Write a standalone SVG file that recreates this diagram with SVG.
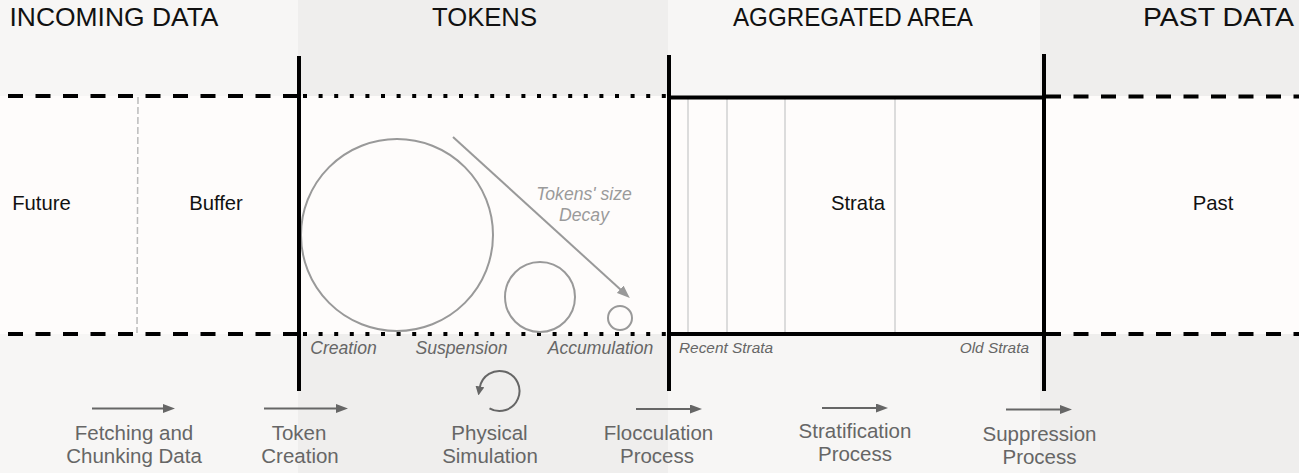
<svg xmlns="http://www.w3.org/2000/svg" width="1299" height="473" viewBox="0 0 1299 473">
<style>
text{font-family:"Liberation Sans",Arial,sans-serif}
.hdr{font-size:26px;fill:#111}
.lbl{font-size:20.3px;fill:#111}
.it{font-size:17.6px;font-style:italic;fill:#666}
.its{font-size:15.4px;font-style:italic;fill:#666}
.dec{font-size:17.6px;font-style:italic;fill:#9a9a9a}
.bot{font-size:20.5px;fill:#666}
.thick{stroke:#000;stroke-width:4;fill:none}
.dash{stroke:#000;stroke-width:4;stroke-dasharray:15 12.5;fill:none}
.dot{stroke:#000;stroke-width:4;stroke-dasharray:4 11.6;fill:none}
.strat{stroke:#d9d9d9;stroke-width:1.8}
.tok{fill:none;stroke:#999;stroke-width:2}
.arr{stroke:#666;stroke-width:2;fill:none}
</style>
<defs>
<marker id="ah" viewBox="0 0 12 9" refX="2" refY="4.5" markerWidth="12" markerHeight="9" markerUnits="userSpaceOnUse" orient="auto"><path d="M0,0 L12,4.5 L0,9 z" fill="#666"/></marker>
<marker id="ahc" viewBox="0 0 9 9" refX="1" refY="4.5" markerWidth="9" markerHeight="9" markerUnits="userSpaceOnUse" orient="auto"><path d="M0,0 L9,4.5 L0,9 z" fill="#666"/></marker>
<marker id="ahg" viewBox="0 0 13 10" refX="3" refY="5" markerWidth="13" markerHeight="10" markerUnits="userSpaceOnUse" orient="auto"><path d="M0,0 L13,5 L0,10 z" fill="#999"/></marker>
</defs>
<g id="background">
<rect x="0" y="0" width="298" height="473" fill="#f7f6f5"/>
<rect x="298" y="0" width="370" height="473" fill="#efeeed"/>
<rect x="668" y="0" width="372" height="473" fill="#f7f6f5"/>
<rect x="1040" y="0" width="259" height="473" fill="#efeeed"/>
<rect x="0" y="96" width="1299" height="238" fill="#fefcfb"/>
</g>
<g id="incoming">
<text class="hdr" x="9.5" y="26" textLength="209" lengthAdjust="spacingAndGlyphs">INCOMING DATA</text>
<line class="dash" x1="8" y1="96" x2="299" y2="96"/>
<line class="dash" x1="8" y1="334" x2="299" y2="334"/>
<line x1="138" y1="97" x2="137" y2="333" stroke="#bbb" stroke-width="1.5" stroke-dasharray="7 3"/>
<text class="lbl" x="41.5" y="210" text-anchor="middle">Future</text>
<text class="lbl" x="216" y="210" text-anchor="middle">Buffer</text>
</g>
<g id="tokens">
<text class="hdr" x="432" y="26" textLength="105" lengthAdjust="spacingAndGlyphs">TOKENS</text>
<line class="dot" x1="303" y1="96" x2="669" y2="96"/>
<line class="dot" x1="303" y1="334" x2="669" y2="334"/>
<circle class="tok" cx="397" cy="235" r="96"/>
<circle class="tok" cx="540" cy="297" r="35"/>
<circle class="tok" cx="620" cy="318" r="12"/>
<text class="dec" x="584" y="200" text-anchor="middle">Tokens' size</text>
<text class="dec" x="584" y="221" text-anchor="middle">Decay</text>
<text class="it" x="343.5" y="354" text-anchor="middle">Creation</text>
<text class="it" x="461.5" y="354" text-anchor="middle">Suspension</text>
<text class="it" x="600.5" y="354" text-anchor="middle">Accumulation</text>
</g>
<g id="aggregated">
<text class="hdr" x="733" y="26" textLength="240" lengthAdjust="spacingAndGlyphs">AGGREGATED AREA</text>
<line class="strat" x1="688" y1="98" x2="688" y2="333"/>
<line class="strat" x1="727" y1="98" x2="727" y2="333"/>
<line class="strat" x1="785" y1="98" x2="785" y2="333"/>
<line class="strat" x1="895" y1="98" x2="895" y2="333"/>
<line class="thick" x1="669" y1="97.5" x2="1046" y2="97.5"/>
<line class="thick" x1="669" y1="334" x2="1046" y2="334"/>
<text class="lbl" x="858" y="210" text-anchor="middle">Strata</text>
<text class="its" x="679" y="353">Recent Strata</text>
<text class="its" x="1029" y="353" text-anchor="end">Old Strata</text>
</g>
<g id="past">
<text class="hdr" x="1143" y="26" textLength="151" lengthAdjust="spacingAndGlyphs">PAST DATA</text>
<line class="dash" x1="1046" y1="96.5" x2="1299" y2="96.5"/>
<line class="dash" x1="1046" y1="334" x2="1299" y2="334"/>
<text class="lbl" x="1213" y="210" text-anchor="middle">Past</text>
</g>
<g id="boundaries">
<line class="thick" x1="299" y1="56" x2="299" y2="391"/>
<line class="thick" x1="669" y1="55" x2="669" y2="391"/>
<line class="thick" x1="1044" y1="54" x2="1044" y2="391"/>
</g>
<g id="connectors">
<line stroke="#999" stroke-width="2" x1="453" y1="137" x2="622.4" y2="291.3" marker-end="url(#ahg)"/>
<line class="arr" x1="92" y1="408.5" x2="165" y2="408.5" marker-end="url(#ah)"/>
<line class="arr" x1="264" y1="408.5" x2="338" y2="408.5" marker-end="url(#ah)"/>
<path class="arr" d="M489.5 408.3 A20 20 0 1 0 479.8 387.5" marker-end="url(#ahc)"/>
<line class="arr" x1="636" y1="409" x2="692" y2="409" marker-end="url(#ah)"/>
<line class="arr" x1="822" y1="408" x2="878" y2="408" marker-end="url(#ah)"/>
<line class="arr" x1="1006" y1="409.5" x2="1062" y2="409.5" marker-end="url(#ah)"/>
</g>
<g id="process-labels">
<text class="bot" x="134" y="440" text-anchor="middle">Fetching and</text>
<text class="bot" x="134" y="463" text-anchor="middle">Chunking Data</text>
<text class="bot" x="299" y="440" text-anchor="middle">Token</text>
<text class="bot" x="300" y="463" text-anchor="middle">Creation</text>
<text class="bot" x="489.5" y="440" text-anchor="middle">Physical</text>
<text class="bot" x="490" y="463" text-anchor="middle">Simulation</text>
<text class="bot" x="658.5" y="440" text-anchor="middle">Flocculation</text>
<text class="bot" x="657" y="463" text-anchor="middle">Process</text>
<text class="bot" x="855" y="438" text-anchor="middle">Stratification</text>
<text class="bot" x="855" y="461" text-anchor="middle">Process</text>
<text class="bot" x="1039.5" y="441" text-anchor="middle">Suppression</text>
<text class="bot" x="1039.5" y="464" text-anchor="middle">Process</text>
</g>
</svg>
